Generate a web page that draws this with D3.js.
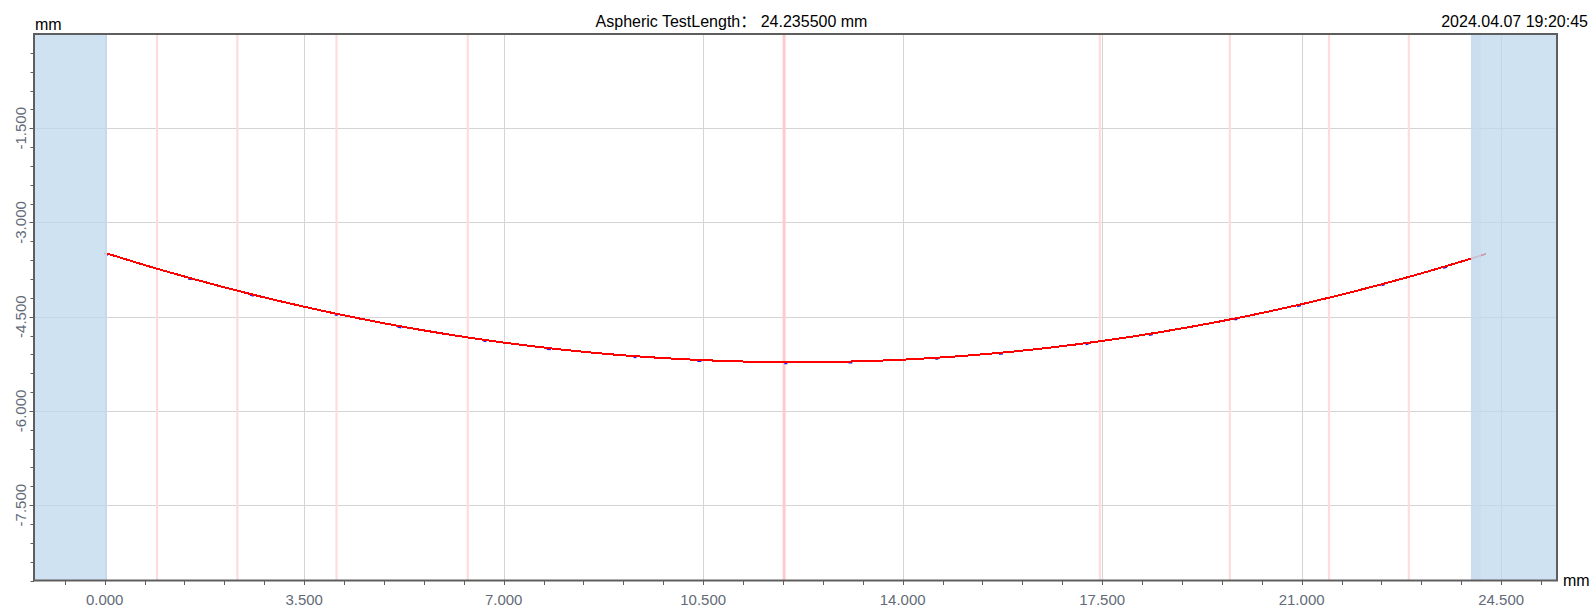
<!DOCTYPE html>
<html>
<head>
<meta charset="utf-8">
<script src="https://cdn.jsdelivr.net/npm/d3@7"></script>
<style>
  html, body { margin: 0; padding: 0; background: #fff; }
  svg { display: block; font-family: "Liberation Sans", Arial, "Noto Sans CJK SC", sans-serif; }
</style>
</head>
<body>
<svg id="chart" width="1592" height="616"></svg>
<script>
// ---- data ----
const titleText = "Aspheric TestLength\uFF1A 24.235500 mm";
const dateText = "2024.04.07 19:20:45";
const unitText = "mm";

const profileX = [0, 1, 2, 3, 4, 5, 6, 7, 8, 9, 10, 11, 12, 13, 14, 15, 16, 17, 18, 19, 20, 21, 22, 23, 24, 24.2355];
const profileY = [-3.483, -3.758, -4.009, -4.237, -4.441, -4.622, -4.779, -4.912, -5.022, -5.108, -5.170, -5.209, -5.225,
                  -5.216, -5.185, -5.129, -5.050, -4.947, -4.821, -4.671, -4.498, -4.301, -4.080, -3.836, -3.568, -3.501];

const markerX = [0.918, 2.328, 4.067, 6.37, 11.92, 17.46, 19.74, 21.48, 22.88];
const markerMain = [false, false, false, false, true, false, false, false, false];

const xTickValues = [0, 3.5, 7, 10.5, 14, 17.5, 21, 24.5];
const yTickValues = [-1.5, -3, -4.5, -6, -7.5];

const excludedLeft = [-1.24, 0.04];
const excludedRight = [23.97, 25.48];

// ---- layout ----
const svg = d3.select("#chart");
const L = 34, R = 1557, T = 34, B = 580.5;

const x = d3.scaleLinear().domain([-1.24, 25.48]).range([L, R]);
const y = d3.scaleLinear().domain([0, -8.7]).range([T, B]);

svg.append("rect").attr("width", 1592).attr("height", 616).attr("fill", "#fff");

// grid
const grid = svg.append("g");
grid.selectAll(".gx").data(xTickValues).enter().append("line")
  .attr("x1", d => Math.round(x(d)) + 0.5).attr("x2", d => Math.round(x(d)) + 0.5)
  .attr("y1", T).attr("y2", B).attr("stroke", "#d4d4d4").attr("stroke-width", 1);
grid.selectAll(".gy").data(yTickValues).enter().append("line")
  .attr("y1", d => Math.round(y(d)) + 0.5).attr("y2", d => Math.round(y(d)) + 0.5)
  .attr("x1", L).attr("x2", R).attr("stroke", "#d4d4d4").attr("stroke-width", 1);

// marker lines
svg.append("g").selectAll("line").data(markerX).enter().append("line")
  .attr("x1", d => x(d)).attr("x2", d => x(d))
  .attr("y1", T).attr("y2", B)
  .attr("stroke", (d, i) => markerMain[i] ? "#ffcaca" : "#ffdcdc")
  .attr("stroke-width", (d, i) => markerMain[i] ? 3 : 2.2);

// profile
const pts = profileX.map((v, i) => [v, profileY[i]]);
const line = d3.line().x(d => x(d[0])).y(d => y(d[1])).curve(d3.curveCatmullRom);
svg.append("path").datum(pts).attr("d", line)
  .attr("transform", "translate(0,1)")
  .attr("fill", "none").attr("stroke", "#1a1aff").attr("stroke-width", 2)
  .attr("stroke-dasharray", "4,83,3,61");
svg.append("path").datum(pts).attr("d", line)
  .attr("fill", "none").attr("stroke", "#ff0000").attr("stroke-width", 2)
  .attr("shape-rendering", "crispEdges");

// excluded regions
const regions = [excludedLeft, excludedRight];
svg.append("g").selectAll("rect").data(regions).enter().append("rect")
  .attr("x", d => x(d[0])).attr("width", d => x(d[1]) - x(d[0]))
  .attr("y", T).attr("height", B - T)
  .attr("fill", "rgb(191,216,238)").attr("fill-opacity", 0.75);
svg.append("line").attr("x1", x(excludedLeft[1]) - 1).attr("x2", x(excludedLeft[1]) - 1)
  .attr("y1", T).attr("y2", B).attr("stroke", "#c3daee").attr("stroke-width", 2);
svg.append("rect").attr("x", x(excludedRight[0])).attr("width", 10)
  .attr("y", T).attr("height", B - T).attr("fill", "#c6dcef").attr("fill-opacity", 0.6);

// axes
const axisColor = "#5e5e5e";
const labelColor = "#636b78";
const ax = svg.append("g");
const xMinor = d3.range(-0.7, 25.3, 0.7);
ax.selectAll(".xt").data(xMinor).enter().append("line")
  .attr("x1", d => Math.round(x(d)) + 0.5).attr("x2", d => Math.round(x(d)) + 0.5)
  .attr("y1", B).attr("y2", B + 4.5).attr("stroke", axisColor).attr("stroke-width", 1);
const yMinor = d3.range(-0.3, -8.75, -0.3);
ax.selectAll(".yt").data(yMinor).enter().append("line")
  .attr("y1", d => Math.round(y(d)) + 0.5).attr("y2", d => Math.round(y(d)) + 0.5)
  .attr("x1", L - 3.5).attr("x2", L).attr("stroke", axisColor).attr("stroke-width", 1);
ax.selectAll(".ytm").data(yTickValues).enter().append("line")
  .attr("y1", d => Math.round(y(d)) + 0.5).attr("y2", d => Math.round(y(d)) + 0.5)
  .attr("x1", L - 4.5).attr("x2", L).attr("stroke", axisColor).attr("stroke-width", 1);

// frame
svg.append("rect").attr("x", L).attr("y", T).attr("width", R - L).attr("height", B - T)
  .attr("fill", "none").attr("stroke", axisColor).attr("stroke-width", 2);

// tick labels (ASCII hyphen for negatives, as in the reference)
const fmt = v => v.toFixed(3);
ax.selectAll(".xl").data(xTickValues).enter().append("text")
  .attr("x", d => x(d)).attr("y", 605)
  .attr("text-anchor", "middle").attr("font-size", 15).attr("fill", labelColor)
  .text(d => fmt(d));
ax.selectAll(".yl").data(yTickValues).enter().append("text")
  .attr("transform", d => `translate(25.5,${y(d)}) rotate(-90)`)
  .attr("text-anchor", "middle").attr("font-size", 15).attr("fill", labelColor)
  .text(d => fmt(d));

// texts
svg.append("text").attr("x", 35).attr("y", 30).attr("font-size", 16).attr("fill", "#000").text(unitText);
svg.append("text").attr("x", 1563).attr("y", 586).attr("font-size", 16).attr("fill", "#000").text(unitText);
svg.append("text").attr("x", 731.5).attr("y", 26.5).attr("text-anchor", "middle")
  .attr("font-size", 16).attr("fill", "#000").style("white-space", "pre").text(titleText);
svg.append("text").attr("x", 1588).attr("y", 26.5).attr("text-anchor", "end")
  .attr("font-size", 16).attr("fill", "#000").text(dateText);
</script>
</body>
</html>
